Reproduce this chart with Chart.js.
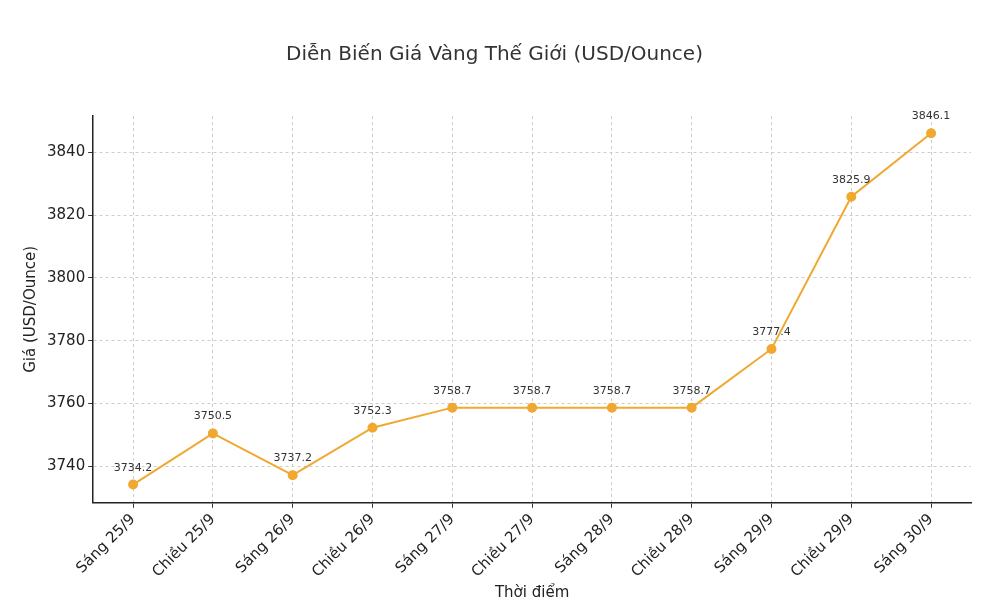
<!DOCTYPE html>
<html><head><meta charset="utf-8">
<script src="https://cdn.jsdelivr.net/npm/chart.js@4"></script>
<style>html,body{margin:0;background:#fff}#wrap{width:984px;height:608px}</style>
</head><body><div id="wrap"><canvas id="c"></canvas></div>
<script>
const labels = ["Sáng 25/9","Chiều 25/9","Sáng 26/9","Chiều 26/9","Sáng 27/9","Chiều 27/9","Sáng 28/9","Chiều 28/9","Sáng 29/9","Chiều 29/9","Sáng 30/9"];
const prices = [3734.2,3750.5,3737.2,3752.3,3758.7,3758.7,3758.7,3758.7,3777.4,3825.9,3846.1];

const valueLabels = {
  id: "valueLabels",
  afterDatasetsDraw(chart) {
    const ctx = chart.ctx;
    const meta = chart.getDatasetMeta(0);
    ctx.save();
    ctx.font = "11px 'DejaVu Sans'";
    ctx.fillStyle = "#333";
    ctx.textAlign = "center";
    meta.data.forEach((p, i) => ctx.fillText(prices[i].toFixed(1), p.x, p.y - 14));
    ctx.restore();
  }
};

new Chart(document.getElementById("c"), {
  type: "line",
  data: { labels, datasets: [{
    data: prices, borderColor: "#f0a830", backgroundColor: "#f0a830",
    borderWidth: 2, pointRadius: 4, pointHoverRadius: 4, tension: 0
  }]},
  options: {
    responsive: true, maintainAspectRatio: false, animation: false,
    layout: { padding: { left: 18, right: 13, top: 10, bottom: 6 } },
    plugins: {
      legend: { display: false },
      tooltip: { enabled: false },
      title: { display: true, text: "Diễn Biến Giá Vàng Thế Giới (USD/Ounce)",
        color: "#333", font: { family: "DejaVu Sans", size: 20, weight: "normal" },
        padding: { top: 33, bottom: 49 } }
    },
    scales: {
      x: {
        offset: true,
        grid: { color: "#ccc", borderDash: [3, 3], drawTicks: true, tickColor: "#333", tickLength: 5 },
        border: { color: "#222", width: 1.5, dash: [3, 3] },
        ticks: { color: "#222", maxRotation: 45, minRotation: 45, font: { family: "DejaVu Sans", size: 15 } },
        title: { display: true, text: "Thời điểm", color: "#222", font: { family: "DejaVu Sans", size: 15 }, padding: 0 }
      },
      y: {
        min: 3728.4, max: 3851.6,
        grid: { color: "#ccc", tickColor: "#333", tickLength: 5 },
        border: { color: "#222", width: 1.5, dash: [3, 3] },
        ticks: { stepSize: 20, color: "#222", font: { family: "DejaVu Sans", size: 15 },
          callback: v => (Math.round(v) % 20 === 0 ? Math.round(v) : "") },
        afterBuildTicks: ax => { ax.ticks = [3740,3760,3780,3800,3820,3840].map(v => ({ value: v })); },
        title: { display: true, text: "Giá (USD/Ounce)", color: "#222", font: { family: "DejaVu Sans", size: 15 } }
      }
    }
  },
  plugins: [valueLabels]
});
</script></body></html>
